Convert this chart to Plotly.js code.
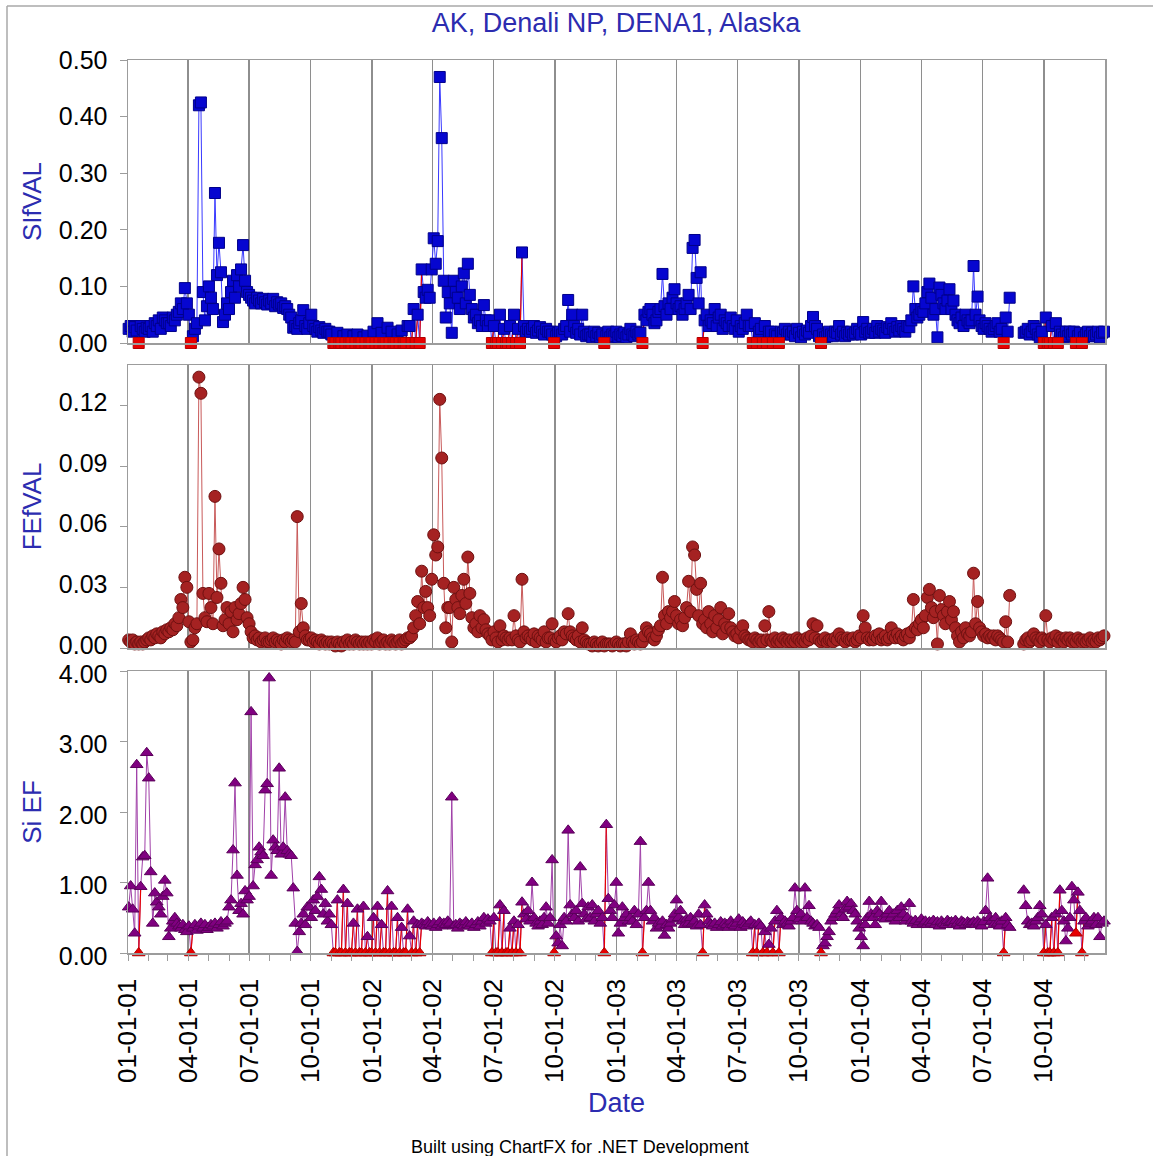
<!DOCTYPE html>
<html><head><meta charset="utf-8">
<script src="https://cdn.plot.ly/plotly-3.0.1.min.js"></script>
<style>html,body{margin:0;padding:0;background:#fff}#chart{width:1153px;height:1156px}</style>
</head><body><div id="chart"></div>
<script>
// ---------------- data ----------------
const chartTitle = 'AK, Denali NP, DENA1, Alaska';
const seriesNames = ['SIfVAL', 'FEfVAL', 'Si EF'];
const xTitle = 'Date';
const footerText = 'Built using ChartFX for .NET Development';
const firstSampleDate = '2001-01-02';   // IMPROVE every-third-day schedule
const sampleIntervalDays = 3;
const axisStart = '2001-01-01';
const axisEnd = '2004-12-31 12:00';

// fine soil silicon (ug/m3), one value per sample day (null = no sample)
const SIfVAL = [
0.025,0.03,0.02,0.028,0.022,0,0.03,0.025,0.02,0.027,
0.025,0.03,0.02,0.035,0.03,0.04,0.025,0.045,0.04,0.035,
0.035,0.03,0.045,0.04,0.05,0.055,0.07,0.06,0.097,0.07,
0.05,0,0.012,0.025,0.035,0.42,0.425,0.09,0.04,0.065,
0.1,0.08,0.06,0.265,0.12,0.177,0.125,0.037,0.05,0.07,
0.06,0.09,0.11,0.08,0.12,0.1,0.13,0.173,0.11,0.09,
0.085,0.08,0.075,0.07,0.08,0.075,0.07,0.078,0.072,0.068,
0.075,0.07,0.078,0.065,0.072,0.068,0.07,0.062,0.065,0.06,
0.05,0.045,0.027,0.03,0.025,0.035,0.04,0.058,0.03,0.025,
0.035,0.05,0.03,0.025,0.02,0.028,0.022,0.018,0.025,0.02,
0.02,0.015,0,0,0.018,0,0,0.012,0,0.015,
0,0,0.012,0,0.015,0,0,0.01,0,0.013,
0,0,0.02,0,0.035,0,0.018,0,0,0.027,
0,0.02,0,0,0.015,0,0.022,0,0,0.03,
0.03,0,0.06,0,0.05,0,0.13,0.09,0.08,0.094,
0.08,0.13,0.185,0.14,0.18,0.47,0.362,0.11,0.045,0.09,
0.07,0.018,0.11,0.09,0.08,0.06,0.1,0.123,0.07,0.14,
0.085,0.06,0.045,0.05,0.035,0.04,0.03,0.067,0.04,0.03,
0.04,0,0.03,0,0,0.05,0,0.025,0,0,
0.03,0,0.05,0,0.025,0,0.16,0.03,0.02,0.025,
0.02,0.025,0.03,0.018,0.022,0.028,0.02,0.015,0.025,0.02,
0.02,0.015,0,0.012,0.018,0.02,0.015,0.025,0.03,0.076,
0.02,0.05,0.03,0.018,0.025,0.015,0.05,0.02,0.012,0.015,
0.015,0.01,0.02,0.012,0.018,0.01,0.015,0,0.012,0.02,
0.01,0.015,0.012,0.02,0.01,0.015,0.012,0.018,0.01,0.015,
0.025,0.015,0.012,0.02,0.015,0.018,0,0.05,0.04,0.055,
0.06,0.05,0.035,0.04,0.055,0.06,0.122,0.065,0.05,0.07,
0.06,0.08,0.095,0.07,0.06,0.065,0.05,0.06,0.07,0.085,
0.06,0.168,0.182,0.115,0.07,0.125,0,0.04,0.05,0.03,
0.04,0.035,0.06,0.03,0.045,0.05,0.025,0.04,0.035,0.03,
0.045,0.03,0.025,0.04,0.02,0.03,0.025,0.035,0.05,0.03,
0.03,0,0.035,0,0.02,0.025,0,0.03,0,0.02,
0.02,0,0.015,0.012,0,0.02,0.018,0.025,0.015,0.02,
0.015,0.02,0.012,0.025,0.018,0.01,0.02,0.015,0.022,0.018,
0.03,0.046,0.03,0.025,0.012,0,0.015,0.01,0.012,0.02,
0.015,0.012,0.02,0.018,0.03,0.015,0.02,0.012,0.018,0.015,
0.02,0.015,0.018,0.025,0.02,0.015,0.037,0.02,0.025,0.018,
0.02,0.025,0.018,0.03,0.02,0.025,0.022,0.018,0.028,0.025,
0.035,0.025,0.02,0.028,0.022,0.03,0.025,0.02,0.03,0.028,
0.04,0.1,0.06,0.045,0.05,0.06,0.055,0.07,0.09,0.105,
0.08,0.05,0.06,0.01,0.098,0.085,0.07,0.06,0.075,0.095,
0.06,0.075,0.05,0.04,0.035,0.045,0.03,0.05,0.04,0.035,
0.04,0.136,0.05,0.082,0.04,0.03,0.025,0.035,0.03,0.025,
0.02,0.025,0.03,0.035,0.02,0.025,0,0.045,0.02,0.08,
null,null,null,null,null,null,0.018,0.02,0.025,0.015,
0.02,0.03,0.025,0.015,0.01,0.02,0,0.045,0,0,
0.03,0,0.035,0,0.02,0.015,0.01,0.02,0.012,0.02,
0.015,0.02,0,0.012,0.018,0,0.01,0.015,0.02,0.012,
0.018,0.012,0.015,0.02,0.01,0.018,0.02
];

// fine iron (ug/m3)
const FEfVAL = [
0.004,0.003,0.004,0.002,0.003,0.002,0.003,0.002,0.003,0.004,
0.005,0.004,0.006,0.005,0.007,0.006,0.005,0.008,0.007,0.009,
0.008,0.01,0.009,0.012,0.011,0.015,0.024,0.02,0.035,0.03,
0.013,0.003,0.004,0.01,0.012,0.134,0.126,0.027,0.015,0.013,
0.027,0.02,0.012,0.075,0.025,0.049,0.032,0.011,0.014,0.02,
0.012,0.018,0.008,0.02,0.014,0.017,0.022,0.03,0.024,0.015,
0.012,0.008,0.005,0.006,0.004,0.005,0.003,0.004,0.005,0.003,
0.003,0.004,0.005,0.003,0.004,0.003,0.002,0.004,0.003,0.005,
0.004,0.003,0.004,0.003,0.065,0.008,0.022,0.01,0.006,0.004,
0.004,0.005,0.003,0.004,0.003,0.002,0.004,0.003,0.002,0.003,
0.002,0.003,0.002,0.001,0.003,0.002,0.001,0.003,0.002,0.004,
0.002,0.003,0.002,0.004,0.003,0.002,0.003,0.002,0.003,0.002,
0.003,0.002,0.004,0.003,0.005,0.002,0.003,0.004,0.002,0.003,
0.002,0.004,0.003,0.002,0.003,0.004,0.002,0.003,0.004,0.005,
0.005,0.006,0.01,0.016,0.023,0.012,0.038,0.02,0.028,0.02,
0.016,0.034,0.056,0.046,0.05,0.123,0.094,0.032,0.01,0.02,
0.02,0.003,0.03,0.024,0.02,0.017,0.026,0.034,0.022,0.045,
0.027,0.015,0.01,0.012,0.008,0.016,0.01,0.014,0.009,0.007,
0.006,0.004,0.008,0.005,0.003,0.011,0.004,0.006,0.005,0.004,
0.005,0.004,0.016,0.006,0.004,0.003,0.034,0.008,0.005,0.006,
0.005,0.004,0.007,0.003,0.006,0.005,0.004,0.008,0.003,0.005,
0.005,0.012,0.004,0.003,0.005,0.006,0.004,0.008,0.007,0.017,
0.008,0.006,0.005,0.004,0.006,0.003,0.01,0.004,0.003,0.002,
0.002,0.001,0.003,0.002,0.001,0.002,0.003,0.001,0.002,0.002,
0.002,0.001,0.002,0.003,0.002,0.001,0.002,0.002,0.001,0.003,
0.007,0.003,0.002,0.004,0.003,0.002,0.003,0.006,0.01,0.008,
0.007,0.005,0.004,0.006,0.009,0.011,0.035,0.016,0.012,0.018,
0.015,0.018,0.023,0.016,0.012,0.014,0.011,0.015,0.02,0.033,
0.018,0.05,0.046,0.029,0.016,0.032,0.012,0.014,0.01,0.018,
0.012,0.008,0.016,0.01,0.014,0.02,0.007,0.012,0.01,0.017,
0.01,0.008,0.006,0.007,0.005,0.009,0.011,0.006,0.005,0.004,
0.004,0.003,0.005,0.004,0.003,0.004,0.003,0.011,0.004,0.018,
0.004,0.003,0.005,0.003,0.004,0.003,0.005,0.004,0.003,0.004,
0.003,0.004,0.003,0.005,0.004,0.003,0.004,0.003,0.005,0.004,
0.006,0.012,0.005,0.011,0.004,0.003,0.004,0.005,0.003,0.004,
0.004,0.003,0.005,0.004,0.007,0.005,0.004,0.003,0.005,0.004,
0.004,0.005,0.003,0.004,0.006,0.005,0.016,0.01,0.005,0.004,
0.005,0.004,0.006,0.005,0.007,0.004,0.005,0.006,0.004,0.005,
0.01,0.006,0.005,0.007,0.005,0.006,0.004,0.006,0.007,0.005,
0.008,0.024,0.01,0.009,0.012,0.014,0.01,0.016,0.025,0.029,
0.02,0.015,0.018,0.002,0.026,0.019,0.016,0.012,0.018,0.023,
0.014,0.018,0.01,0.006,0.003,0.008,0.005,0.01,0.007,0.006,
0.008,0.037,0.012,0.023,0.01,0.008,0.006,0.007,0.005,0.006,
0.005,0.006,0.004,0.006,0.005,0.004,0.003,0.013,0.003,0.026,
null,null,null,null,null,null,0.002,0.004,0.005,0.003,
0.004,0.007,0.005,0.004,0.003,0.005,0.004,0.016,0.004,0.003,
0.005,0.004,0.006,0.003,0.005,0.004,0.003,0.005,0.004,0.005,
0.003,0.004,0.003,0.005,0.004,0.003,0.004,0.003,0.004,0.005,
0.003,0.004,0.003,0.005,0.004,0.005,0.006
];

// silicon enrichment factor
const SiEF = [
0.65,0.95,0.62,0.28,2.67,0,0.94,1.36,1.38,2.84,
2.48,1.15,0.42,0.85,0.72,0.65,0.55,0.8,1.03,0.85,
0.23,0.35,0.45,0.5,0.42,0.38,0.35,0.4,0.33,0.3,
0.38,0,0.35,0.4,0.32,0.38,0.42,0.35,0.4,0.33,
0.36,0.4,0.38,0.42,0.35,0.4,0.44,0.38,0.42,0.45,
0.65,0.75,1.46,2.41,1.1,0.6,0.7,0.55,0.88,0.75,
0.8,3.42,0.95,1.25,1.32,1.5,1.43,1.38,2.31,2.4,
3.9,1.1,1.6,1.5,1.45,2.62,1.4,1.5,2.21,1.45,
1.4,1.38,0.92,0.42,0.02,0.3,0.42,0.55,0.4,0.65,
0.65,0.5,0.75,0.6,0.8,1.08,0.9,0.55,0.7,0.45,
0.55,0.4,0,0,0.75,0,0,0.9,0,0.7,
0,0,0.42,0,0.62,0,0,0.66,0,0.23,
0,0,0.5,0,0.66,0,0.4,0,0,0.88,
0,0.66,0,0,0.5,0,0.36,0,0,0.62,
0.24,0,0.45,0,0.4,0,0.42,0.4,0.38,0.44,
0.4,0.38,0.42,0.36,0.4,0.44,0.38,0.42,0.4,0.45,
0.42,2.21,0.38,0.4,0.35,0.42,0.4,0.38,0.44,0.4,
0.38,0.42,0.36,0.4,0.44,0.38,0.45,0.5,0.42,0.48,
0.45,0,0.5,0,0,0.68,0,0.6,0,0,
0.35,0,0.45,0,0.4,0,0.72,0.55,0.48,0.6,
0.45,1.0,0.5,0.42,0.38,0.45,0.4,0.5,0.65,0.42,
0.5,1.32,0,0.24,0.14,0.4,0.1,0.5,0.45,1.74,
0.68,0.55,0.5,0.6,0.45,1.22,0.7,0.55,0.48,0.65,
0.5,0.68,0.45,0.55,0.6,0.42,0.5,0,1.82,0.77,
0.6,0.5,0.68,1.0,0.28,0.42,0.65,0.5,0.55,0.45,
0.5,0.45,0.6,0.4,0.55,1.58,0,0.5,0.6,1.0,
0.6,0.45,0.5,0.35,0.42,0.38,0.45,0.25,0.4,0.35,
0.42,0.48,0.55,0.75,0.5,0.6,0.45,0.4,0.48,0.42,
0.5,0.42,0.45,0.38,0.55,0.4,0,0.68,0.55,0.45,
0.4,0.38,0.42,0.36,0.4,0.44,0.38,0.42,0.4,0.36,
0.45,0.4,0.38,0.42,0.48,0.36,0.44,0.4,0.38,0.42,
0.45,0,0.4,0,0.42,0.38,0,0.3,0,0.12,
0.35,0,0.45,0.6,0,0.5,0.4,0.45,0.42,0.38,
0.45,0.5,0.92,0.6,0.48,0.55,0.45,0.92,0.5,0.67,
0.45,0.42,0.38,0.4,0.36,0,0.1,0.14,0.23,0.3,
0.45,0.5,0.55,0.6,0.68,0.55,0.5,0.62,0.73,0.65,
0.7,0.6,0.55,0.45,0.35,0.23,0.1,0.4,0.5,0.73,
0.55,0.5,0.4,0.6,0.55,0.73,0.5,0.48,0.55,0.6,
0.5,0.55,0.45,0.6,0.5,0.65,0.55,0.45,0.5,0.7,
0.45,0.42,0.46,0.4,0.44,0.48,0.42,0.45,0.4,0.44,
0.42,0.46,0.4,0.44,0.38,0.45,0.42,0.4,0.46,0.43,
0.44,0.4,0.46,0.42,0.38,0.45,0.43,0.4,0.44,0.42,
0.42,0.44,0.4,0.45,0.42,0.38,0.44,0.6,1.06,0.5,
0.45,0.4,0.5,0.42,0.38,0.45,0,0.5,0.4,0.36,
null,null,null,null,null,null,0.89,0.67,0.45,0.4,
0.42,0.38,0.45,0.5,0.67,0.55,0,0.4,0,0,
0.5,0,0.55,0,0.89,0.6,0.45,0.17,0.35,0.5,
0.94,0.75,0.28,0.86,0.6,0,0.45,0.5,0.38,0.42,
0.45,0.5,0.4,0.5,0.23,0.42,0.45
];

// ---------------- derived ----------------
const W = 1153, H = 1156;
const t0 = Date.parse(firstSampleDate + 'T00:00:00Z');
const sampleDates = SIfVAL.map((_, i) =>
  new Date(t0 + i * sampleIntervalDays * 86400000).toISOString().slice(0, 10));
// samples where fine Si was below detection (plotted in red)
const belowDetection = SIfVAL.map(v => v === 0);

const FONT = 'Liberation Sans, Arial, sans-serif';
const BLUE_TEXT = '#2c2cb0';
const AXIS_GRAY = '#9c9c9c';
const RED = '#e80000';

function panelTraces(values, flags, xa, ya, st) {
  const n = values.length;
  const segX = [], segY = [];
  const nx = [], ny = [], rx = [], ry = [];
  for (let i = 0; i < n; i++) {
    if (values[i] === null) continue;
    if (flags[i]) { rx.push(sampleDates[i]); ry.push(values[i]); }
    else { nx.push(sampleDates[i]); ny.push(values[i]); }
    if (flags[i] && i + 1 < n && values[i + 1] !== null) {
      segX.push(sampleDates[i], sampleDates[i + 1], null);
      segY.push(values[i], values[i + 1], null);
    }
  }
  return [
    {type: 'scatter', mode: 'lines', x: sampleDates, y: values, xaxis: xa, yaxis: ya,
     connectgaps: false, line: {color: st.line, width: 1}, hoverinfo: 'skip', showlegend: false},
    {type: 'scatter', mode: 'lines', x: segX, y: segY, xaxis: xa, yaxis: ya,
     line: {color: RED, width: 1.2}, hoverinfo: 'skip', showlegend: false},
    {type: 'scatter', mode: 'markers', x: nx, y: ny, xaxis: xa, yaxis: ya, cliponaxis: false,
     marker: {symbol: st.symbol, size: st.size, color: st.fill, line: {color: st.edge, width: 1}},
     name: st.name, showlegend: false},
    {type: 'scatter', mode: 'markers', x: rx, y: ry, xaxis: xa, yaxis: ya, cliponaxis: false,
     marker: {symbol: st.symbol, size: st.size, color: RED, line: {color: '#b00000', width: 1}},
     name: st.name + ' (below MDL)', showlegend: false}
  ];
}

const noFlags = FEfVAL.map(() => false);
const data = [].concat(
  panelTraces(SIfVAL, belowDetection, 'x', 'y',
    {name: seriesNames[0], symbol: 'square', size: 11, fill: '#0606d0', edge: '#00008a', line: '#3a3aff'}),
  panelTraces(FEfVAL, noFlags, 'x2', 'y2',
    {name: seriesNames[1], symbol: 'circle', size: 12, fill: '#a52222', edge: '#6e1010', line: '#c85a5a'}),
  panelTraces(SiEF, belowDetection, 'x3', 'y3',
    {name: seriesNames[2], symbol: 'triangle-up', size: 11, fill: '#800080', edge: '#5a005a', line: '#a040a8'})
);

const xDomain = [128 / W, 1105 / W];
const yDom = (top, bot) => [1 - bot / H, 1 - top / H];

function xAxis(anchor, bottom) {
  const a = {
    domain: xDomain, anchor: anchor, type: 'date', range: [axisStart, axisEnd],
    tickmode: 'linear', tick0: axisStart, dtick: 'M3',
    showgrid: true, gridcolor: '#8e8e8e', gridwidth: 1.5,
    showline: true, mirror: true, linecolor: AXIS_GRAY, linewidth: 1.5,
    zeroline: false, showticklabels: false, ticks: '', fixedrange: true
  };
  if (anchor !== 'y') a.matches = 'x';
  if (bottom) {
    Object.assign(a, {
      showticklabels: true, ticks: 'outside', ticklen: 6, tickcolor: AXIS_GRAY, tickwidth: 1,
      tickformat: '%m-%d-%y', tickangle: -90,
      tickfont: {family: FONT, size: 26, color: '#000'},
      ticklabelstandoff: 8,
      minor: {dtick: 'M1', tick0: axisStart, ticks: 'outside', ticklen: 6,
              tickcolor: AXIS_GRAY, tickwidth: 1, showgrid: false},
      title: {text: xTitle, font: {family: FONT, size: 27, color: BLUE_TEXT}, standoff: 11}
    });
  }
  return a;
}

function yAxis(anchor, dom, range, dtick, title, shift) {
  return {
    domain: dom, anchor: anchor, range: range, tick0: 0, dtick: dtick, tickformat: '.2f',
    ticks: 'outside', ticklen: 7, tickcolor: AXIS_GRAY, tickwidth: 1,
    showline: true, mirror: true, linecolor: AXIS_GRAY, linewidth: 1.5,
    showgrid: false, zeroline: false, fixedrange: true,
    tickfont: {family: FONT, size: 25, color: '#000'},
    ticklabelstandoff: 7, ticklabelshift: shift,
    title: {text: title, font: {family: FONT, size: 26, color: BLUE_TEXT}, standoff: 9}
  };
}

const layout = {
  width: W, height: H,
  margin: {l: 0, r: 0, t: 0, b: 0},
  paper_bgcolor: '#fff', plot_bgcolor: '#fff',
  showlegend: false,
  title: {text: chartTitle, font: {family: FONT, size: 27, color: BLUE_TEXT},
          xref: 'paper', x: 616 / W, xanchor: 'center',
          yref: 'container', y: 1 - 23 / H, yanchor: 'middle'},
  xaxis: xAxis('y', false),
  xaxis2: xAxis('y2', false),
  xaxis3: xAxis('y3', true),
  yaxis: yAxis('x', yDom(60, 343), [0, 0.5], 0.1, seriesNames[0], 0),
  yaxis2: yAxis('x2', yDom(365, 648), [0, 0.14], 0.03, seriesNames[1], -3),
  yaxis3: yAxis('x3', yDom(671, 953), [0, 4], 1, seriesNames[2], 3),
  shapes: [
    {type: 'line', xref: 'paper', yref: 'paper', x0: 7 / W, x1: 1, y0: 1 - 6 / H, y1: 1 - 6 / H,
     line: {color: '#a8a8a8', width: 1.5}},
    {type: 'line', xref: 'paper', yref: 'paper', x0: 7 / W, x1: 7 / W, y0: 0, y1: 1 - 6 / H,
     line: {color: '#a8a8a8', width: 1.5}}
  ],
  annotations: [
    {text: footerText, xref: 'paper', yref: 'paper', x: 580 / W, y: 1 - 1147 / H,
     xanchor: 'center', yanchor: 'middle', showarrow: false,
     font: {family: FONT, size: 18, color: '#000'}}
  ]
};

Plotly.newPlot('chart', data, layout, {staticPlot: true, displayModeBar: false});
</script>
</body></html>
